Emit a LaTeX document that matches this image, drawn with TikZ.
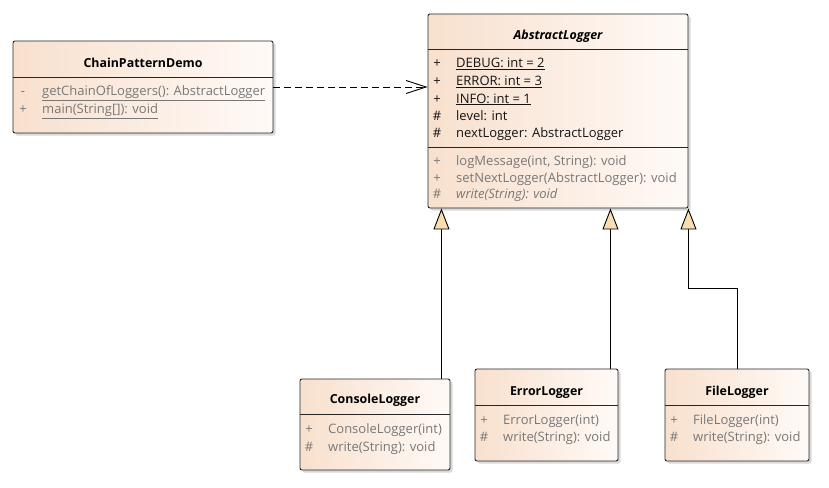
\documentclass[tikz,border=0pt]{standalone}
\usepackage{fontspec}
\setmainfont{Open Sans}
\usetikzlibrary{arrows.meta,shapes,shadows}
\definecolor{peach}{HTML}{F8E0CD}
\definecolor{cream}{HTML}{FFFAF7}
\definecolor{opgrey}{HTML}{787878}
\definecolor{attrdark}{HTML}{141414}
\definecolor{wheat}{HTML}{F7DDB0}
\begin{document}
\begin{tikzpicture}[x=1pt,y=-1pt,font=\fontsize{13}{15}\selectfont]
    \tikzstyle{classbox}=[rectangle,draw=black!85,line width=0.9pt,rounded corners=2pt,left color=peach,right color=cream,drop shadow={shadow xshift=2.5pt,shadow yshift=-2.5pt,fill=black!30},inner sep=0pt]
    \tikzstyle{title}=[anchor=base,inner sep=0pt,yshift=-4.5pt,font=\fontsize{12.4}{15}\selectfont\bfseries]
    \tikzstyle{vis}=[anchor=base,inner sep=0pt,yshift=-4.5pt]
    \tikzstyle{mem}=[anchor=base west,inner sep=0pt,yshift=-4.5pt]
    \tikzstyle{sep}=[draw=black!85,line width=0.9pt]
    \tikzstyle{dep}=[line width=0.9pt,dash pattern=on 7pt off 4pt,-{Straight Barb[length=20pt,width=13pt]}]
    \tikzstyle{gen}=[line width=0.9pt,-{Triangle[length=21pt,width=16pt,fill=wheat]}]
    \useasboundingbox (0,0) rectangle (829,487);
    % classes
    \node[classbox,minimum width=260pt,minimum height=194pt] (abstract) at (558,111) {};
    \node[classbox,minimum width=260pt,minimum height=92pt] (chain) at (143,87) {};
    \node[classbox,minimum width=150pt,minimum height=91pt] (console) at (375,424.5) {};
    \node[classbox,minimum width=143pt,minimum height=92pt] (error) at (546.5,415) {};
    \node[classbox,minimum width=144pt,minimum height=92pt] (file) at (737,415) {};
    % ChainPatternDemo
    \node[title] (chaintitle) at (143,63) {ChainPatternDemo};
    \draw[sep] (chain.west |- 0,77.5) -- (chain.east |- 0,77.5);
    \node[vis,text=opgrey] at (23,91) {-};
    \node[mem,text=opgrey] at (42,91) {\underline{getChainOfLoggers(): AbstractLogger}};
    \node[vis,text=opgrey] at (23,109) {+};
    \node[mem,text=opgrey] at (42,109) {\underline{main(String[]): void}};
    % AbstractLogger
    \node[title,font=\fontsize{12.4}{15}\selectfont\bfseries\itshape] (abstracttitle) at (558,35) {AbstractLogger};
    \draw[sep] (abstract.west |- 0,49) -- (abstract.east |- 0,49);
    \draw[sep] (abstract.west |- 0,147) -- (abstract.east |- 0,147);
    \foreach \y/\v/\t in {63/+/{\underline{DEBUG: int = 2}},81/+/{\underline{ERROR: int = 3}},98.5/+/{\underline{INFO: int = 1}},116/\#/{level: int},133/\#/{nextLogger: AbstractLogger}}
      {\node[vis,text=attrdark] at (437,\y) {\v};
       \node[mem,text=attrdark] at (456,\y) {\t};}
    \foreach \y/\v/\t in {161/+/{logMessage(int, String): void},177.5/+/{setNextLogger(AbstractLogger): void},194/\#/{\textit{write(String): void}}}
      {\node[vis,text=opgrey] at (437,\y) {\v};
       \node[mem,text=opgrey] at (456,\y) {\t};}
    % ConsoleLogger
    \node[title] (consoletitle) at (375,399) {ConsoleLogger};
    \draw[sep] (console.west |- 0,414) -- (console.east |- 0,414);
    \node[vis,text=opgrey] at (309,429) {+};
    \node[mem,text=opgrey] at (328,429) {ConsoleLogger(int)};
    \node[vis,text=opgrey] at (309,447) {\#};
    \node[mem,text=opgrey] at (328,447) {write(String): void};
    % ErrorLogger
    \node[title] (errortitle) at (546.5,391) {ErrorLogger};
    \draw[sep] (error.west |- 0,405) -- (error.east |- 0,405);
    \node[vis,text=opgrey] at (484,420) {+};
    \node[mem,text=opgrey] at (503,420) {ErrorLogger(int)};
    \node[vis,text=opgrey] at (484,437) {\#};
    \node[mem,text=opgrey] at (503,437) {write(String): void};
    % FileLogger
    \node[title] (filetitle) at (737,391) {FileLogger};
    \draw[sep] (file.west |- 0,405) -- (file.east |- 0,405);
    \node[vis,text=opgrey] at (674,420) {+};
    \node[mem,text=opgrey] at (693,420) {FileLogger(int)};
    \node[vis,text=opgrey] at (674,437) {\#};
    \node[mem,text=opgrey] at (693,437) {write(String): void};
    % connectors
    \draw[dep] (chain.east) -- (chain.east -| abstract.west);
    \draw[gen] ([xshift=-9pt]console.north east) -- ([xshift=-9pt]console.north east |- abstract.south);
    \draw[gen] ([xshift=-8pt]error.north east) -- ([xshift=-8pt]error.north east |- abstract.south);
    \draw[gen] (file.north) |- ([yshift=-80pt]abstract.south east) -- (abstract.south east);
\end{tikzpicture}
\end{document}
